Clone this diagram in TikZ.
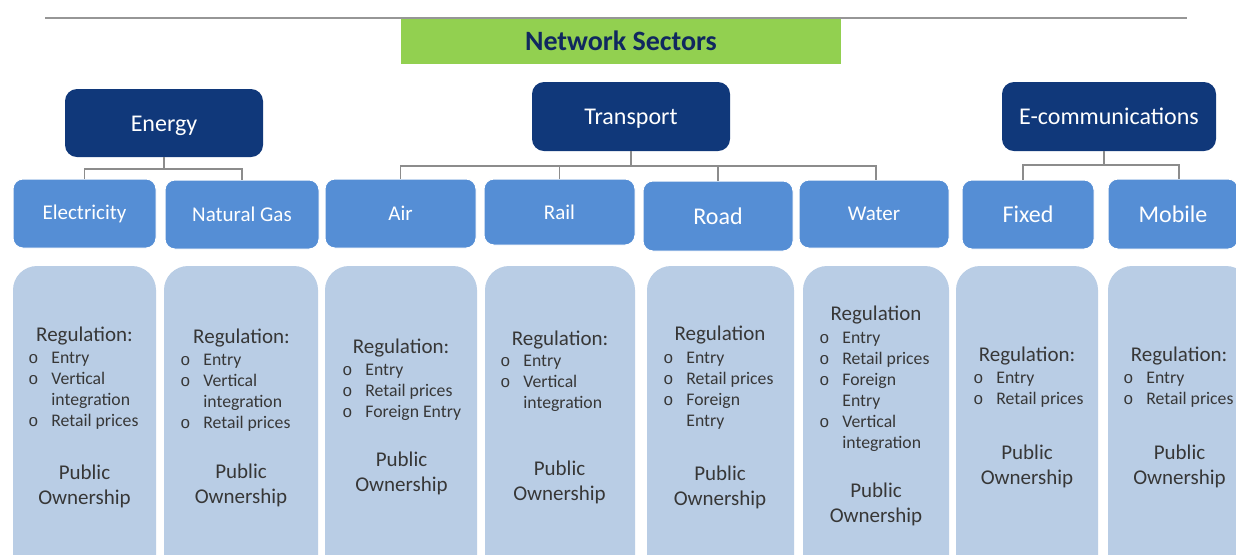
\documentclass[tikz,border=0pt]{standalone}
\usepackage{fontspec}
\setmainfont{Carlito}
\newfontfamily\bulfont{Liberation Mono}
\definecolor{navy}{RGB}{16,56,122}
\definecolor{midblue}{RGB}{85,142,213}
\definecolor{lightblue}{RGB}{185,205,229}
\definecolor{titlegreen}{RGB}{146,208,80}
\definecolor{titletext}{RGB}{16,40,95}
\definecolor{bodytext}{RGB}{55,55,55}
\definecolor{connector}{RGB}{140,140,140}
\definecolor{rulegray}{RGB}{150,150,150}
\newcommand\bl{\makebox[11.5pt][l]{\bulfont\fontsize{8.4}{10.5}\selectfont o}}
\tikzset{
  sz/.style 2 args={minimum width=#1*0.5pt, minimum height=#2*0.5pt},
  lvlone/.style={fill=navy, text=white, rounded corners=6pt, font=\fontsize{12}{14}\selectfont, inner sep=0pt, text height=9pt, text depth=0.7pt},
  lvltwo/.style={fill=midblue, draw=white, line width=0.5pt, text=white, rounded corners=5pt, font=\fontsize{10.5}{12}\selectfont, inner sep=0pt},
  bigtwo/.style={lvltwo, font=\fontsize{12}{14}\selectfont},
  lvlthree/.style={fill=lightblue, rounded corners=12pt, inner sep=0pt},
  regtitle/.style={text=bodytext, font=\fontsize{10.5}{12.5}\selectfont, inner sep=0pt, yshift=-1.25pt},
  reglist/.style={text=bodytext, font=\fontsize{8.85}{10.5}\selectfont, inner sep=0pt, anchor=base west, yshift=-1pt},
  owner/.style={text=bodytext, font=\fontsize{10.5}{12.5}\selectfont, align=center, inner sep=0pt, yshift=-1.25pt},
  conn/.style={draw=connector, line width=0.75pt},
  titlebox/.style={fill=titlegreen, text=titletext, font=\fontsize{14}{16}\selectfont\bfseries, inner sep=0pt}
}
\begin{document}
\begin{tikzpicture}[x=0.5pt,y=-0.5pt]
\clip (0,0) rectangle (1236,554);
\fill[white] (0,0) rectangle (1236,554);

% title
\node[titlebox, sz={440}{46}] (title) at (621,41) {Network Sectors};
\draw[rulegray, line width=1pt] (45,17.5) -- (1187,17.5);

% level one
\node[lvlone, sz={198}{68}] (energy) at (164,123) {Energy};
\node[lvlone, sz={198}{69}] (transport) at (631,116.5) {Transport};
\node[lvlone, sz={214}{69}] (ecomm) at (1109,116.5) {E-communications};

% level two
\node[lvltwo, sz={143}{69}] (elec) at (84.5,213.5) {Electricity};
\node[lvltwo, sz={154}{69}] (gas) at (242,214.5) {Natural Gas};
\node[lvltwo, sz={151}{69}] (air) at (400.5,213.5) {Air};
\node[lvltwo, sz={151}{66}] (rail) at (559.5,212) {Rail};
\node[bigtwo, sz={150}{70}] (road) at (718,216) {Road};
\node[lvltwo, sz={150}{68}] (water) at (874,214) {Water};
\node[bigtwo, sz={132}{69}] (fixed) at (1028,214.5) {Fixed};
\node[bigtwo, sz={130}{70}] (mobile) at (1173,214) {Mobile};

% connectors
\coordinate (ebus) at (164,169);
\coordinate (tbus) at (631,166);
\coordinate (cbus) at (1104,165);
\draw[conn] (energy.south) -- (ebus) -| (elec.north);
\draw[conn] (ebus) -| (gas.north);
\draw[conn] (transport.south) -- (tbus) -| (air.north);
\draw[conn] (tbus) -| (rail.north);
\draw[conn] (tbus) -| (road.north);
\draw[conn] (tbus) -| ([xshift=1pt]water.north);
\draw[conn] (ecomm.south -| cbus) -- (cbus) -| ([xshift=-2.5pt]fixed.north);
\draw[conn] (cbus) -| ([xshift=3pt]mobile.north);

% level three boxes
\node[lvlthree, sz={143}{314}] (elecb) at (84.5,423) {};
\node[lvlthree, sz={154}{314}] (gasb) at (241,423) {};
\node[lvlthree, sz={152}{314}] (airb) at (401,423) {};
\node[lvlthree, sz={150}{314}] (railb) at (560,423) {};
\node[lvlthree, sz={147}{314}] (roadb) at (720.5,423) {};
\node[lvlthree, sz={146}{314}] (waterb) at (876,423) {};
\node[lvlthree, sz={142}{314}] (fixedb) at (1027,423) {};
\node[lvlthree, sz={142}{314}] (mobileb) at (1179,423) {};

% Electricity
\node[regtitle] (elecr) at (84.5,333) {Regulation:};
\node[reglist] (elecl) at (28,361) {\begin{tabular}[t]{@{}l@{}l@{}}\bl & Entry\\ \bl & Vertical\\ & integration\\ \bl & Retail prices\end{tabular}};
\node[owner] (eleco) at (84.5,483.5) {Public\\Ownership};

% Natural gas
\node[regtitle] (gasr) at (241.5,335) {Regulation:};
\node[reglist] (gasl) at (180,363) {\begin{tabular}[t]{@{}l@{}l@{}}\bl & Entry\\ \bl & Vertical\\ & integration\\ \bl & Retail prices\end{tabular}};
\node[owner] (gaso) at (241,482.5) {Public\\Ownership};

% Air
\node[regtitle] (airr) at (401,345) {Regulation:};
\node[reglist] (airl) at (342,373) {\begin{tabular}[t]{@{}l@{}l@{}}\bl & Entry\\ \bl & Retail prices\\ \bl & Foreign Entry\end{tabular}};
\node[owner] (airo) at (401.5,471) {Public\\Ownership};

% Rail
\node[regtitle] (railr) at (560,337) {Regulation:};
\node[reglist] (raill) at (500,364) {\begin{tabular}[t]{@{}l@{}l@{}}\bl & Entry\\ \bl & Vertical\\ & integration\end{tabular}};
\node[owner] (railo) at (559.5,479.5) {Public\\Ownership};

% Road
\node[regtitle] (roadr) at (720,332) {Regulation};
\node[reglist] (roadl) at (663,361) {\begin{tabular}[t]{@{}l@{}l@{}}\bl & Entry\\ \bl & Retail prices\\ \bl & Foreign\\ & Entry\end{tabular}};
\node[owner] (roado) at (720,484.5) {Public\\Ownership};

% Water
\node[regtitle] (waterr) at (876,312) {Regulation};
\node[reglist] (waterl) at (819,341) {\begin{tabular}[t]{@{}l@{}l@{}}\bl & Entry\\ \bl & Retail prices\\ \bl & Foreign\\ & Entry\\ \bl & Vertical\\ & integration\end{tabular}};
\node[owner] (watero) at (876,501.5) {Public\\Ownership};

% Fixed
\node[regtitle] (fixedr) at (1027,353) {Regulation:};
\node[reglist] (fixedl) at (973,381) {\begin{tabular}[t]{@{}l@{}l@{}}\bl & Entry\\ \bl & Retail prices\end{tabular}};
\node[owner] (fixedo) at (1027,463.5) {Public\\Ownership};

% Mobile
\node[regtitle] (mobiler) at (1179,353) {Regulation:};
\node[reglist] (mobilel) at (1123,381) {\begin{tabular}[t]{@{}l@{}l@{}}\bl & Entry\\ \bl & Retail prices\end{tabular}};
\node[owner] (mobileo) at (1179.5,463.5) {Public\\Ownership};
\end{tikzpicture}
\end{document}
